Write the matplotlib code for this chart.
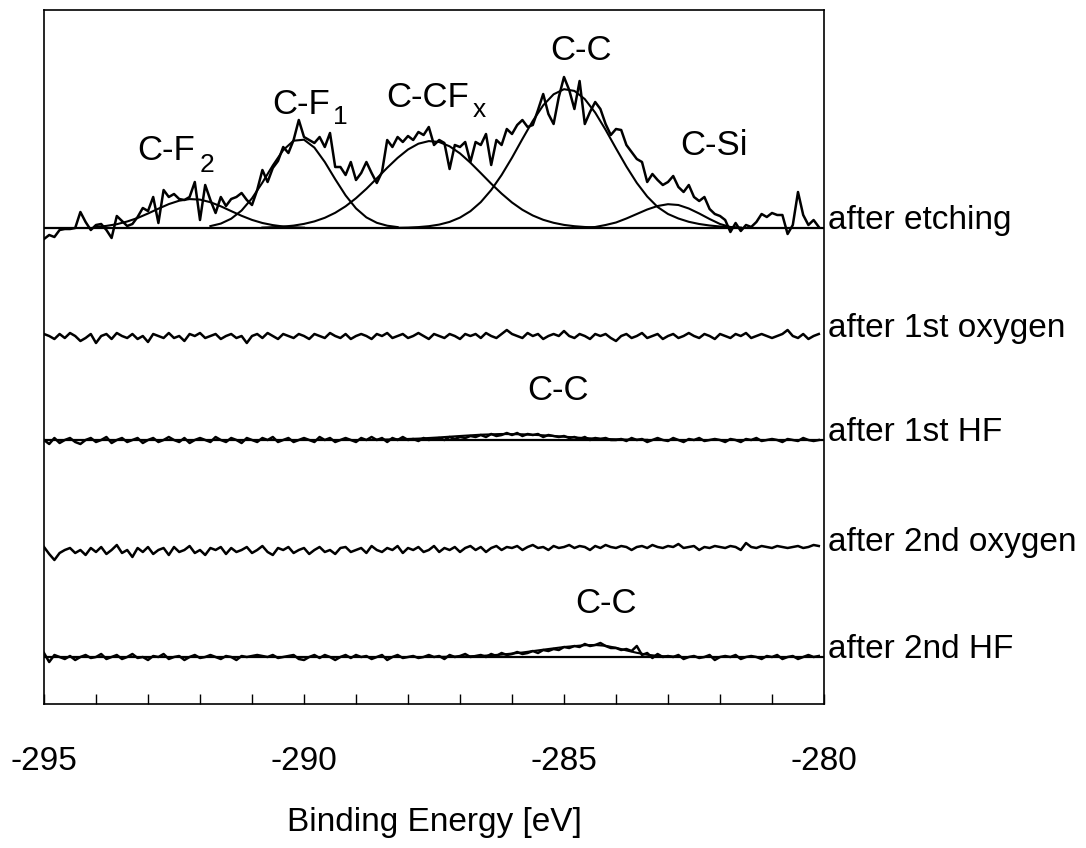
import numpy as np
import matplotlib.pyplot as plt

plt.rcParams["font.family"] = ["Liberation Sans", "DejaVu Sans"]
plt.rcParams["axes.unicode_minus"] = False

# C 1s scans, 0.1 eV steps starting at -295 eV (intensity in a.u.)
E_START, E_STEP = -295.0, 0.1

etching = [
    -11, -7, -9, -2, -1, -1, 0, 16, 6, -2,
    3, 4, -2, -10, 12, 7, 2, 4, 11, 20,
    17, 31, 5, 38, 31, 34, 29, 28, 31, 46,
    8, 43, 28, 15, 31, 22, 29, 31, 35, 28,
    23, 38, 58, 46, 60, 67, 81, 75, 88, 108,
    91, 88, 85, 91, 81, 95, 61, 61, 53, 66,
    48, 55, 66, 55, 45, 56, 88, 81, 91, 86,
    92, 88, 96, 93, 101, 83, 88, 85, 59, 83,
    81, 86, 66, 86, 83, 94, 63, 88, 83, 99,
    94, 103, 108, 101, 103, 118, 134, 114, 104, 131,
    151, 138, 119, 147, 104, 116, 126, 119, 104, 93,
    99, 98, 83, 76, 69, 66, 46, 54, 48, 43,
    46, 52, 41, 36, 43, 31, 27, 31, 19, 14,
    12, 8, -4, 5, -3, 3, 1, 6, 14, 11,
    15, 13, 13, -6, 3, 36, 13, 3, 8, 1,
]

oxygen_1 = [
    2, 0, -3, 2, -2, 3, 0, -5, -2, 2,
    -7, 0, 2, -3, 3, 0, -2, 2, -3, 0,
    -6, 2, 0, -2, 3, -2, 0, -5, 2, 0,
    3, -2, 0, 2, -3, 0, 2, -2, 0, -7,
    0, 2, -2, 3, 0, -3, 2, 0, -2, 2,
    0, -3, 2, 0, -2, 3, 0, -2, 2, -3,
    0, 2, 0, -3, 2, 0, 3, -2, 0, 2,
    -2, 0, 3, 0, -3, 2, 0, -2, 2, 0,
    -3, 2, 0, 2, -2, 3, 0, -2, 2, 6,
    2, 0, -2, 3, 0, 2, -3, 0, 2, 0,
    5, 0, -2, 2, 0, -3, 2, 0, 2, -2,
    -5, 0, 2, -2, 0, 3, -2, 0, 2, -3,
    0, 2, -2, 0, 3, 0, -2, 2, 0, -3,
    2, 0, -2, 2, 0, 3, -2, 0, 2, 0,
    -2, 0, 2, 6, 0, -2, 2, -3, 0, 2,
]

hf_1 = [
    0, -4, 2, -3, 0, 2, -2, -4, 0, 2,
    -2, 0, 3, -3, 0, 2, -2, 0, 2, -3,
    0, 2, -2, 0, 3, 0, -2, 2, -3, 0,
    2, 0, -2, 3, 0, -2, 2, 0, -3, 2,
    0, -2, 2, 0, 3, -2, 0, 2, -2, 0,
    2, 0, -2, 3, 0, 2, -2, 0, 2, 0,
    -2, 2, 0, 3, 0, 2, -2, 2, 0, 3,
    0, 1, -1, 2, 0, 1, 2, 0, 3, 1,
    3, 2, 4, 3, 5, 3, 6, 4, 5, 7,
    5, 7, 4, 6, 5, 6, 3, 5, 4, 3,
    4, 2, 3, 1, 3, 0, 2, 1, 2, 0,
    0, 1, -1, 2, 0, 1, -2, 0, 2, 0,
    -1, 2, 0, -2, 1, 0, 2, -1, 0, 1,
    0, -2, 1, 0, -2, 1, 0, 2, -1, 0,
    1, 0, -2, 1, 0, -1, 2, 0, -1, 0,
]

oxygen_2 = [
    3, -4, -10, -3, 0, 2, -3, 0, -5, 2,
    -2, 3, -4, 0, 5, -3, 0, -7, 2, -2,
    3, -4, 0, 2, -5, 3, -2, 0, 4, -3,
    0, -5, 2, 0, 3, -4, 2, -2, 0, 3,
    -3, 0, 4, -2, -5, 2, 0, 3, -3, 0,
    2, -4, 0, 3, -2, 0, -4, 2, 3, -2,
    0, 2, -3, 4, 0, -2, 2, 0, 4, -3,
    2, 0, 3, -2, 0, 4, -2, 2, 0, 3,
    -2, 2, 4, 0, 3, -2, 2, 4, 0, 3,
    2, 4, 0, 3, 5, 2, 3, 0, 4, 2,
    3, 5, 2, 4, 3, 0, 4, 2, 5, 3,
    2, 4, 3, 0, 3, 4, 2, 5, 3, 2,
    4, 3, 6, 2, 3, 4, 0, 3, 2, 4,
    3, 2, 4, 3, 0, 7, 3, 2, 4, 3,
    2, 4, 3, 2, 3, 4, 2, 3, 5, 4,
]

hf_2 = [
    4, -5, 2, 0, -2, 1, -3, 0, 2, -1,
    0, 3, -2, 0, 2, -2, 0, 3, -1, 0,
    -3, 1, 0, 3, -2, 0, 1, -3, 0, 2,
    -1, 0, 2, 0, -2, 1, 0, -3, 1, 0,
    1, 2, 1, 0, 2, -1, 0, 1, 2, -2,
    -3, 0, 2, -1, 2, 0, -3, 0, 2, -1,
    2, 0, 1, -2, 0, 2, -3, 0, 2, -1,
    0, 1, -1, 0, 2, 0, 1, -2, 2, 0,
    1, 3, 0, 1, 2, 0, 3, 1, 4, 2,
    3, 5, 3, 4, 6, 4, 7, 6, 8, 7,
    10, 9, 11, 10, 13, 11, 12, 14, 11, 9,
    9, 7, 8, 6, 11, 2, 4, -1, 3, 0,
    1, 0, 2, -2, 0, 1, -1, 0, 2, -3,
    0, 1, 0, 2, -2, 0, 1, 0, -2, 1,
    0, 2, -2, 0, 1, -2, 0, 2, 0, 1,
]

# fitted components of the etched surface
cf2_e = [-294.0, -293.8, -293.6, -293.4, -293.2, -293.0, -292.8, -292.6, -292.4, -292.2, -292.0,
         -291.8, -291.6, -291.4, -291.2, -291.0, -290.8, -290.6, -290.4, -290.2, -290.0]
cf2_i = [1.1, 2.1, 3.8, 6.5, 10.0, 14.5, 19.3, 23.9, 27.3, 28.9, 28.4,
         25.8, 21.7, 16.9, 12.2, 8.1, 5.0, 2.9, 1.5, 0.7, 0.3]

cf1_e = [-291.8, -291.6, -291.4, -291.2, -291.0, -290.8, -290.6, -290.4, -290.2, -290.0,
         -289.8, -289.6, -289.4, -289.2, -289.0, -288.8, -288.6, -288.4, -288.2]
cf1_i = [1.9, 4.4, 9.3, 17.5, 29.7, 45.4, 62.6, 77.9, 87.3, 88.3,
         80.4, 66.0, 48.8, 32.6, 19.6, 10.6, 5.2, 2.3, 0.9]

ccfx_e = [-290.8, -290.6, -290.4, -290.2, -290.0, -289.8, -289.6, -289.4, -289.2, -289.0,
          -288.8, -288.6, -288.4, -288.2, -288.0, -287.8, -287.6, -287.4, -287.2, -287.0,
          -286.8, -286.6, -286.4, -286.2, -286.0, -285.8, -285.6, -285.4, -285.2, -285.0,
          -284.8, -284.6, -284.4]
ccfx_i = [0.4, 0.8, 1.4, 2.4, 4.1, 6.6, 10.2, 15.2, 21.7, 29.8,
          39.2, 49.6, 60.2, 70.1, 78.5, 84.3, 86.9, 86.0, 81.7, 74.6,
          65.3, 54.9, 44.3, 34.4, 25.5, 18.2, 12.5, 8.2, 5.2, 3.1,
          1.8, 1.0, 0.5]

cc_e = [-288.2, -288.0, -287.8, -287.6, -287.4, -287.2, -287.0, -286.8, -286.6, -286.4,
        -286.2, -286.0, -285.8, -285.6, -285.4, -285.2, -285.0, -284.8, -284.6, -284.4,
        -284.2, -284.0, -283.8, -283.6, -283.4, -283.2, -283.0, -282.8, -282.6, -282.4,
        -282.2, -282.0, -281.8, -281.6]
cc_i = [0.2, 0.4, 0.9, 1.8, 3.4, 6.1, 10.4, 16.8, 25.9, 38.0,
        53.0, 70.3, 89.0, 107.1, 122.7, 133.7, 138.8, 137.1, 128.9, 115.4,
        98.2, 79.6, 61.5, 45.1, 31.5, 21.0, 14.0, 9.5, 6.2, 4.0,
        2.5, 1.5, 0.8, 0.3]

csi_e = [-284.6, -284.4, -284.2, -284.0, -283.8, -283.6, -283.4, -283.2, -283.0,
         -282.8, -282.6, -282.4, -282.2, -282.0, -281.8, -281.6]
csi_i = [0.3, 1.0, 3.0, 5.5, 9.5, 14.0, 18.5, 22.0, 23.8,
         23.0, 19.5, 14.5, 9.0, 4.0, 1.0, 0.2]

# C-C component after the HF dips
hf1_cc_e = [-288.6, -288.2, -287.8, -287.4, -287.0, -286.6, -286.2,
            -285.8, -285.4, -285.0, -284.6, -284.2, -283.8, -283.4]
hf1_cc_i = [0.3, 0.7, 1.4, 2.6, 4.0, 5.3, 6.0, 5.7, 4.7, 3.3, 1.9, 1.0, 0.4, 0.2]

hf2_cc_e = [-287.4, -287.0, -286.6, -286.2, -285.8, -285.4, -285.0, -284.6, -284.4,
            -284.2, -284.0, -283.8, -283.6, -283.4, -283.2, -283.0, -282.8]
hf2_cc_i = [0.1, 0.4, 1.1, 2.4, 4.5, 7.3, 10.0, 11.8, 12.0,
            11.2, 9.2, 6.6, 4.2, 2.3, 1.1, 0.5, 0.2]

trace_labels = ["after etching", "after 1st oxygen", "after 1st HF",
                "after 2nd oxygen", "after 2nd HF"]
offsets = [476, 368, 264, 154, 47]


def main() -> None:
    fig = plt.figure(figsize=(10.86, 8.48), dpi=100)
    ax = fig.add_axes([44 / 1086, 1 - 704 / 848, 780 / 1086, 694 / 848])

    traces = [etching, oxygen_1, hf_1, oxygen_2, hf_2]
    energy = E_START + E_STEP * np.arange(len(etching))

    for vals, off in zip(traces, offsets):
        ax.plot(energy, np.asarray(vals) + off, color="black", lw=1.8)

    # fit baselines and components
    fits = {
        0: [(cf2_e, cf2_i), (cf1_e, cf1_i), (ccfx_e, ccfx_i), (cc_e, cc_i), (csi_e, csi_i)],
        2: [(hf1_cc_e, hf1_cc_i)],
        4: [(hf2_cc_e, hf2_cc_i)],
    }
    for idx, comps in fits.items():
        off = offsets[idx]
        ax.axhline(off, color="black", lw=1.6)
        for ce, ci in comps:
            ax.plot(ce, np.asarray(ci) + off, color="black", lw=1.5)

    for lab, off in zip(trace_labels, offsets):
        ax.text(-279.92, off - 1, lab, fontsize=24, va="baseline", ha="left", clip_on=False)

    # peak assignments
    big, small = 25, 19
    ax.text(-293.21, 544, "C-F", fontsize=big, va="baseline")
    ax.text(-292.0, 532, "2", fontsize=small, va="baseline")
    ax.text(-290.62, 590, "C-F", fontsize=big, va="baseline")
    ax.text(-289.44, 580, "1", fontsize=small, va="baseline")
    ax.text(-288.42, 597, "C-CF", fontsize=big, va="baseline")
    ax.text(-286.75, 587, "x", fontsize=small, va="baseline")
    ax.text(-285.27, 644, "C-C", fontsize=big, va="baseline")
    ax.text(-282.77, 549, "C-Si", fontsize=big, va="baseline")
    ax.text(-285.71, 304, "C-C", fontsize=big, va="baseline")
    ax.text(-284.79, 91, "C-C", fontsize=big, va="baseline")

    ax.set_xlim(-295, -280)
    ax.set_ylim(0, 694)
    ax.set_yticks([])
    ax.set_xticks([-295, -290, -285, -280])
    ax.set_xticks(np.arange(-294, -280), minor=True)
    ax.tick_params(axis="x", which="both", direction="in", length=7.5, width=1.0,
                   labelsize=24, pad=30)
    ax.set_xlabel("Binding Energy [eV]", fontsize=24, labelpad=22)
    for sp in ax.spines.values():
        sp.set_linewidth(1.2)

    fig.savefig("out.png", dpi=100)


if __name__ == "__main__":
    main()
